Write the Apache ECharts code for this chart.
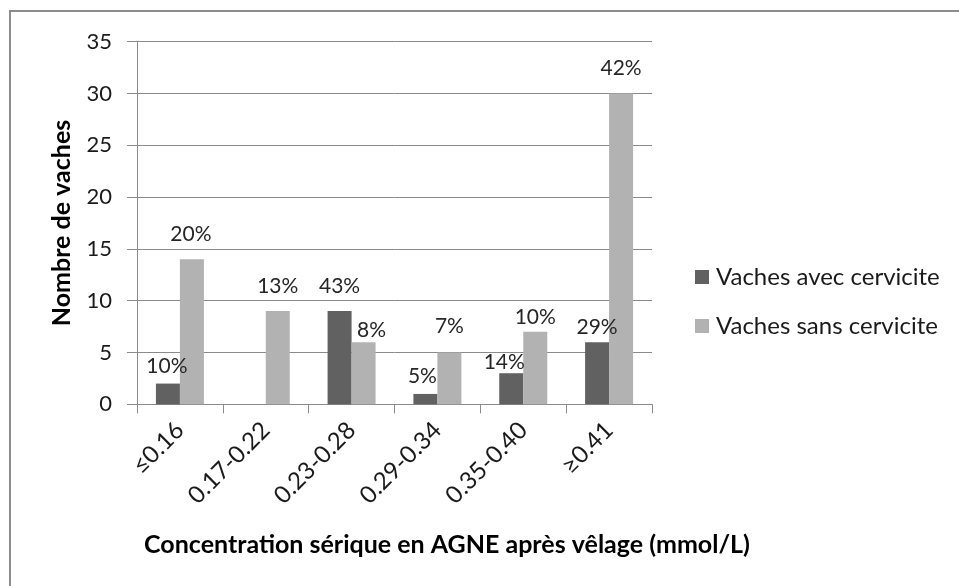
<!DOCTYPE html>
<html>
<head>
<meta charset="utf-8">
<script src="https://cdn.jsdelivr.net/npm/echarts@6/dist/echarts.min.js"></script>
<style>
  html, body { margin: 0; padding: 0; background: #fff; }
  #chart { width: 959px; height: 586px; }
</style>
</head>
<body>
<div id="chart"></div>
<script>
// Serum NEFA classes after calving
const categories = ['≤0.16', '0.17-0.22', '0.23-0.28', '0.29-0.34', '0.35-0.40', '≥0.41'];
// Number of cows per class
const avecCervicite = [2, 0, 9, 1, 3, 6];
const sansCervicite = [14, 9, 6, 5, 7, 30];
// Share of each group falling in the class
const avecPct = ['10%', '', '43%', '5%', '14%', '29%'];
const sansPct = ['20%', '13%', '8%', '7%', '10%', '42%'];
const yTicks = { min: 0, max: 35, interval: 5 };

// Hand-placed label nudges [dx, dy] for each bar
const avecLabelNudge = [[-1, -6.5], [0, 0], [0, -14.5], [-3, -7.5], [-7, 0], [0, -4.5]];
const sansLabelNudge = [[-1, -14.5], [0, -14.5], [8, -1.5], [0, -15.5], [0, -4.5], [0, -14.5]];

const FONT = 'Lato, "Open Sans", sans-serif';
const GRID_COLOR = '#8a8a8a';

function buildData(values, pct, nudge) {
  return values.map((v, i) => ({
    value: v,
    label: {
      show: pct[i] !== '',
      formatter: pct[i],
      offset: nudge[i]
    }
  }));
}

const labelStyle = {
  position: 'top',
  distance: 0,
  fontFamily: FONT,
  fontSize: 21,
  lineHeight: 21,
  color: '#262626'
};

const chart = echarts.init(document.getElementById('chart'), null, { renderer: 'canvas' });
chart.setOption({
  animation: false,
  backgroundColor: '#ffffff',
  grid: { left: 137, right: 307, top: 41.7, bottom: 181.7, containLabel: false },
  legend: {
    orient: 'vertical',
    left: 690,
    top: 260,
    itemWidth: 14,
    itemHeight: 14,
    itemGap: 25,
    icon: 'rect',
    textStyle: { fontFamily: FONT, fontSize: 24, lineHeight: 24, color: '#1a1a1a', padding: [0, 0, 0, 2] },
    data: ['Vaches avec cervicite', 'Vaches sans cervicite']
  },
  xAxis: {
    type: 'category',
    data: categories,
    axisLine: { lineStyle: { color: GRID_COLOR, width: 1 } },
    axisTick: { show: true, length: 9, alignWithLabel: false, lineStyle: { color: GRID_COLOR } },
    axisLabel: {
      rotate: 45,
      margin: 22,
      fontFamily: FONT,
      fontSize: 24,
      color: '#1a1a1a',
      interval: 0
    },
    splitLine: { show: false }
  },
  yAxis: {
    type: 'value',
    min: yTicks.min,
    max: yTicks.max,
    interval: yTicks.interval,
    name: 'Nombre de vaches',
    nameLocation: 'middle',
    nameGap: 63,
    nameRotate: 90,
    nameTextStyle: { fontFamily: FONT, fontSize: 25, fontWeight: 'bold', color: '#000' },
    axisLine: { show: true, lineStyle: { color: GRID_COLOR, width: 1 } },
    axisTick: { show: true, inside: false, length: 10, lineStyle: { color: GRID_COLOR } },
    axisLabel: { margin: 25, fontFamily: FONT, fontSize: 22, color: '#1a1a1a' },
    splitLine: { show: true, lineStyle: { color: GRID_COLOR, width: 1 } }
  },
  series: [
    {
      name: 'Vaches avec cervicite',
      type: 'bar',
      barWidth: 24,
      barGap: '0%',
      itemStyle: { color: '#616161' },
      label: labelStyle,
      data: buildData(avecCervicite, avecPct, avecLabelNudge)
    },
    {
      name: 'Vaches sans cervicite',
      type: 'bar',
      barWidth: 24,
      barGap: '0%',
      itemStyle: { color: '#b2b2b2' },
      label: labelStyle,
      data: buildData(sansCervicite, sansPct, sansLabelNudge)
    }
  ],
  graphic: [
    {
      type: 'rect',
      shape: { x: 10, y: 11, width: 960, height: 600 },
      style: { fill: 'none', stroke: '#8c8c8c', lineWidth: 2 },
      silent: true
    },
    {
      type: 'text',
      x: 447,
      y: 545,
      style: {
        text: 'Concentration sérique en AGNE après vêlage (mmol/L)',
        fontFamily: FONT,
        fontSize: 25,
        fontWeight: 'bold',
        fill: '#000',
        align: 'center',
        verticalAlign: 'middle'
      }
    }
  ]
});
</script>
</body>
</html>
